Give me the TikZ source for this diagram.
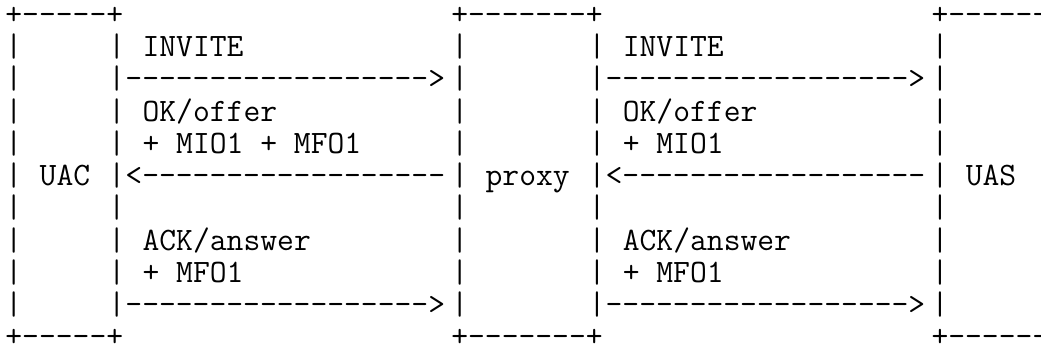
\documentclass[tikz,border=0pt]{standalone}
\newcommand\hy[1]{\foreach \i in {1,...,#1}{\hbox{-}}}
\begin{document}
\begin{tikzpicture}[x=12.8625pt,y=-24.2pt,
  txt/.style={anchor=base west, inner sep=0pt, outer sep=0pt,
    font=\ttfamily\fontsize{24.5pt}{24.2pt}\selectfont}]
\path[use as bounding box, fill=white] (-4.05pt,18.2pt) rectangle (776.7pt,-248.05pt);
% box edges top and bottom
\foreach \r/\n in {0/t,10/b}{
  \node[txt] (\n l) at (0,\r)  {+\hy{5}+};
  \node[txt] (\n m) at (26,\r) {+\hy{7}+};
  \node[txt] (\n r) at (54,\r) {+\hy{6}};
}
% vertical bars
\foreach \r in {1,...,9}{
  \foreach \c in {0,6,26,34,54}{
    \node[txt] (bar-\r-\c) at (\c,\r) {|};
  }
}
% labels
\node[txt] (uac)   at (2,5)  {UAC};
\node[txt] (proxy) at (28,5) {proxy};
\node[txt] (uas)   at (56,5) {UAS};
% messages, left leg
\node[txt] (inv1) at (8,1) {INVITE};
\node[txt] (a1)   at (7,2) {\hy{18}>};
\node[txt] (ok1)  at (8,3) {OK/offer};
\node[txt] (ok1b) at (8,4) {+ MIO1 + MFO1};
\node[txt] (a2)   at (7,5) {<\hy{18}};
\node[txt] (ack1) at (8,7) {ACK/answer};
\node[txt] (ack1b) at (8,8) {+ MFO1};
\node[txt] (a3)   at (7,9) {\hy{18}>};
% messages, right leg
\node[txt] (inv2) at (36,1) {INVITE};
\node[txt] (b1)   at (35,2) {\hy{18}>};
\node[txt] (ok2)  at (36,3) {OK/offer};
\node[txt] (ok2b) at (36,4) {+ MIO1};
\node[txt] (b2)   at (35,5) {<\hy{18}};
\node[txt] (ack2) at (36,7) {ACK/answer};
\node[txt] (ack2b) at (36,8) {+ MFO1};
\node[txt] (b3)   at (35,9) {\hy{18}>};
\end{tikzpicture}
\end{document}
